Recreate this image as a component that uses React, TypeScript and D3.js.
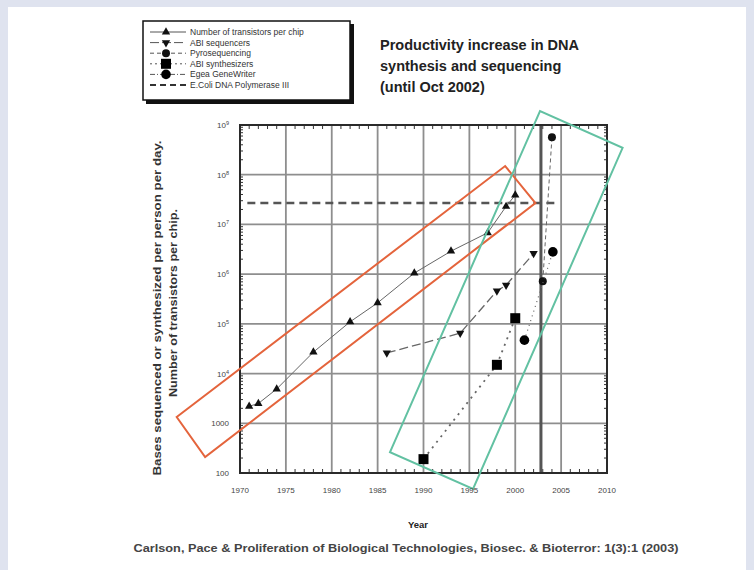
import * as d3 from "d3";

// Number of transistors per chip
const transistorYears = [1971, 1972, 1974, 1978, 1982, 1985, 1989, 1993, 1997, 1999, 2000];
const transistorCounts = [2200, 2500, 4900, 27000, 110000, 265000, 1050000, 2900000, 6800000, 23000000, 39000000];

// ABI sequencers
const abiSeqYears = [1986, 1994, 1998, 1999, 2002];
const abiSeqValues = [26000, 65000, 460000, 600000, 2600000];

// Pyrosequencing
const pyroYears = [2003, 2004];
const pyroValues = [720000, 570000000];

// ABI synthesizers
const abiSynYears = [1990, 1998, 2000];
const abiSynValues = [190, 15000, 130000];

// Egea GeneWriter
const egeaYears = [2001, 2004.1];
const egeaValues = [47000, 2800000];

// E.Coli DNA Polymerase III
const ecoliYears = [1970.8, 2004.5];
const ecoliRate = 27000000;

const oct2002 = 2002.8;

const xTicks = [1970, 1975, 1980, 1985, 1990, 1995, 2000, 2005, 2010];
const yTicks = [100, 1000, 1e4, 1e5, 1e6, 1e7, 1e8, 1e9];

// annotation boxes, corners as [year, value]
const redBox: [number, number][] = [
  [1963.1, 10 ** 3.125],
  [1998.9, 10 ** 8.175],
  [2002.2, 10 ** 7.43],
  [1966.2, 10 ** 2.32],
];
const greenBox: [number, number][] = [
  [1986.35, 10 ** 2.42],
  [2002.7, 10 ** 9.28],
  [2011.7, 10 ** 8.54],
  [1995.4, 10 ** 1.68],
];

const title = ["Productivity increase in DNA", "synthesis and sequencing", "(until Oct 2002)"];
const legendLabels = [
  "Number of transistors per chip",
  "ABI sequencers",
  "Pyrosequencing",
  "ABI synthesizers",
  "Egea GeneWriter",
  "E.Coli DNA Polymerase III",
];

const W = 754;
const H = 570;
const x = d3.scaleLinear([1970, 2010], [240, 607]);
const y = d3.scaleLog([100, 1e9], [473, 125]);

const triUp = d3.symbol(d3.symbolTriangle, 30);
const circ = (r: number) => d3.symbol(d3.symbolCircle, Math.PI * r * r);
const sq = (s: number) => d3.symbol(d3.symbolSquare, s * s);

function Marker({ kind, cx, cy }: { kind: string; cx: number; cy: number }) {
  if (kind === "up") return <path d={triUp()!} transform={`translate(${cx},${cy})`} fill="#111" />;
  if (kind === "down")
    return <path d={triUp()!} transform={`translate(${cx},${cy}) rotate(180)`} fill="#111" />;
  if (kind === "pyro") return <path d={circ(4)()!} transform={`translate(${cx},${cy})`} fill="#111" />;
  if (kind === "square") return <path d={sq(10)()!} transform={`translate(${cx},${cy})`} fill="#000" />;
  if (kind === "circle") return <path d={circ(4.8)()!} transform={`translate(${cx},${cy})`} fill="#000" />;
  return null;
}

const line = d3
  .line<[number, number]>()
  .x((d) => x(d[0]))
  .y((d) => y(d[1]));

const zip = (a: number[], b: number[]) => a.map((v, i) => [v, b[i]] as [number, number]);

export default function App() {
  const series = [
    { kind: "up", pts: zip(transistorYears, transistorCounts), dash: "", w: 1 },
    { kind: "down", pts: zip(abiSeqYears, abiSeqValues), dash: "9 4", w: 1.3 },
    { kind: "pyro", pts: zip(pyroYears, pyroValues), dash: "4 3", w: 1 },
    { kind: "square", pts: zip(abiSynYears, abiSynValues), dash: "2 5", w: 1.8 },
    { kind: "circle", pts: zip(egeaYears, egeaValues), dash: "1 4", w: 1.2 },
  ];
  const legendDash = ["", "9 3", "4 3", "2 3", "5 2 1 2", "6 4"];
  const legendKinds = ["up", "down", "pyro", "square", "circle", ""];

  const minorX = d3.range(1971, 2010).filter((v) => v % 5 !== 0);
  const minorY: number[] = [];
  for (let e = 2; e < 9; e++) for (let k = 2; k < 10; k++) minorY.push(k * 10 ** e);

  return (
    <svg
      width={W}
      height={H}
      style={{ position: "absolute", left: 0, top: 0 }}
      fontFamily="'Liberation Sans', Arial, sans-serif"
    >
      <rect width={W} height={H} fill="#dfe3ef" />
      <rect x={8} y={7} width={738} height={H - 7} fill="#fff" />

      {/* grid */}
      <g stroke="#8e8e8e" strokeWidth={1.8}>
        {xTicks.slice(1, -1).map((t) => (
          <line key={t} x1={x(t)} x2={x(t)} y1={y(1e9)} y2={y(100)} />
        ))}
        {yTicks.slice(1, -1).map((t) => (
          <line key={t} x1={x(1970)} x2={x(2010)} y1={y(t)} y2={y(t)} />
        ))}
      </g>

      {/* ticks */}
      <g stroke="#333" strokeWidth={1}>
        {minorX.map((t) => (
          <g key={t}>
            <line x1={x(t)} x2={x(t)} y1={y(100)} y2={y(100) - 4} />
            <line x1={x(t)} x2={x(t)} y1={y(1e9)} y2={y(1e9) + 4} />
          </g>
        ))}
        {minorY.map((t) => (
          <g key={t}>
            <line x1={x(1970)} x2={x(1970) + 3} y1={y(t)} y2={y(t)} />
            <line x1={x(2010)} x2={x(2010) - 3} y1={y(t)} y2={y(t)} />
          </g>
        ))}
      </g>

      {/* Oct 2002 line */}
      <line x1={x(oct2002)} x2={x(oct2002)} y1={y(1e9)} y2={y(100)} stroke="#555" strokeWidth={3} />

      {/* frame */}
      <rect
        x={x(1970)}
        y={y(1e9)}
        width={x(2010) - x(1970)}
        height={y(100) - y(1e9)}
        fill="none"
        stroke="#2a2a2a"
        strokeWidth={2}
      />

      {/* E.Coli */}
      <line
        x1={x(ecoliYears[0])}
        x2={x(ecoliYears[1])}
        y1={y(ecoliRate)}
        y2={y(ecoliRate)}
        stroke="#555"
        strokeWidth={2.6}
        strokeDasharray="8 5"
      />

      {/* series */}
      {series.map((s, i) => (
        <g key={i}>
          <path d={line(s.pts)!} fill="none" stroke="#666" strokeWidth={s.w} strokeDasharray={s.dash} />
          {s.pts.map((p, j) => (
            <Marker key={j} kind={s.kind} cx={x(p[0])} cy={y(p[1])} />
          ))}
        </g>
      ))}

      {/* annotation boxes */}
      <polygon
        points={redBox.map((p) => `${x(p[0])},${y(p[1])}`).join(" ")}
        fill="none"
        stroke="#e4643c"
        strokeWidth={2}
      />
      <polygon
        points={greenBox.map((p) => `${x(p[0])},${y(p[1])}`).join(" ")}
        fill="none"
        stroke="#62c1a2"
        strokeWidth={2}
      />

      {/* tick labels */}
      <g fontSize={8} fill="#444">
        {yTicks.map((t) => {
          const e = Math.round(Math.log10(t));
          return (
            <text key={t} x={229} y={y(t) + 3} textAnchor="end">
              {e <= 3 ? String(t) : (
                <>
                  10<tspan dy={-3} fontSize={5.5}>{e}</tspan>
                </>
              )}
            </text>
          );
        })}
        {xTicks.map((t) => (
          <text key={t} x={x(t)} y={493} textAnchor="middle">
            {t}
          </text>
        ))}
      </g>

      {/* axis titles */}
      <text x={418} y={528} textAnchor="middle" fontSize={9.5} fontWeight="bold" fill="#222">
        Year
      </text>
      <g fontSize={10.5} fontWeight="bold" fill="#333" textAnchor="middle">
        <text
          transform="translate(161,308) rotate(-90)"
          textLength={335}
          lengthAdjust="spacingAndGlyphs"
        >
          Bases sequenced or synthesized per person per day.
        </text>
        <text
          transform="translate(177,303) rotate(-90)"
          textLength={188}
          lengthAdjust="spacingAndGlyphs"
        >
          Number of transistors per chip.
        </text>
      </g>
      <text
        x={406}
        y={552}
        textAnchor="middle"
        fontSize={10.5}
        fontWeight="bold"
        fill="#444"
        textLength={545}
        lengthAdjust="spacingAndGlyphs"
      >
        Carlson, Pace &amp; Proliferation of Biological Technologies, Biosec. &amp; Bioterror: 1(3):1 (2003)
      </text>

      {/* title */}
      <g fontSize={14.5} fontWeight="bold" fill="#222">
        {title.map((t, i) => (
          <text key={i} x={380} y={50 + i * 21}>
            {t}
          </text>
        ))}
      </g>

      {/* legend */}
      <rect x={146} y={24} width={208} height={80} fill="#111" />
      <rect x={143} y={21} width={207} height={79} fill="#fff" stroke="#111" strokeWidth={1.5} />
      {legendLabels.map((l, i) => {
        const ly = 32 + i * 10.6;
        return (
          <g key={i}>
            <line
              x1={150}
              x2={186}
              y1={ly}
              y2={ly}
              stroke={i === 5 ? "#333" : "#555"}
              strokeWidth={i === 5 ? 2 : 1}
              strokeDasharray={legendDash[i]}
            />
            <Marker kind={legendKinds[i]} cx={166} cy={ly} />
            <text x={190} y={ly + 3} fontSize={8.5} fill="#333">
              {l}
            </text>
          </g>
        );
      })}
    </svg>
  );
}
